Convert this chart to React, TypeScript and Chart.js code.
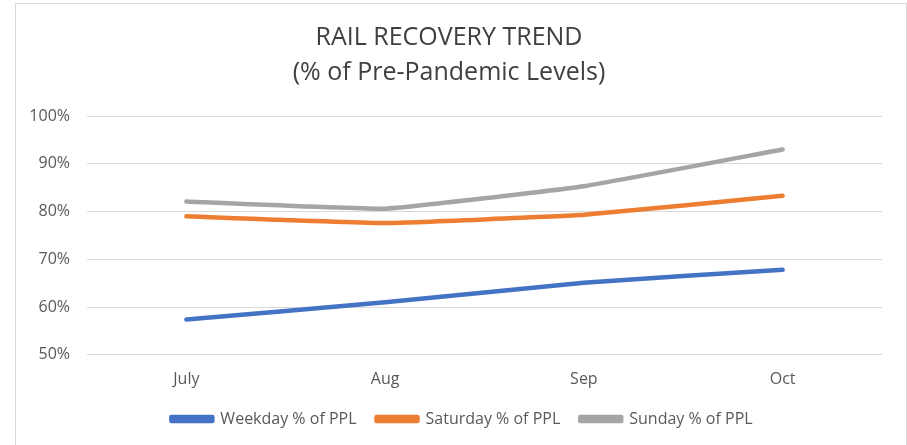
import React, { useEffect, useRef } from "react";
import { Chart, registerables } from "chart.js";

Chart.register(...registerables);

const months = ["July", "Aug", "Sep", "Oct"];
const weekday = [57.4, 61.0, 65.1, 67.8];
const saturday = [79.0, 77.6, 79.3, 83.3];
const sunday = [82.1, 80.6, 85.3, 93.0];
const titleLines = ["RAIL RECOVERY TREND", "(% of Pre-Pandemic Levels)"];
const seriesNames = ["Weekday % of PPL", "Saturday % of PPL", "Sunday % of PPL"];

const FONT = "'Open Sans', sans-serif";

const legendShift = {
  id: "legendShift",
  afterLayout(chart: any) {
    const lg = chart.legend;
    if (lg) {
      lg.left += 13;
      lg.right += 13;
      lg.top -= 13;
      lg.bottom -= 13;
    }
  },
};

export default function App() {
  const ref = useRef<HTMLCanvasElement | null>(null);

  useEffect(() => {
    document.body.style.margin = "0";
    const ctx = ref.current!.getContext("2d")!;
    const colors = ["#4472C4", "#ED7D31", "#A5A5A5"];
    const data = [weekday, saturday, sunday];
    const chart = new Chart(ctx, {
      type: "line",
      data: {
        labels: months,
        datasets: data.map((d, i) => ({
          label: seriesNames[i],
          data: d,
          borderColor: colors[i],
          backgroundColor: colors[i],
          borderWidth: 4.5,
          pointRadius: 0,
          tension: 0.1,
          borderCapStyle: "round" as const,
          borderJoinStyle: "round" as const,
        })),
      },
      plugins: [legendShift],
      options: {
        animation: false,
        responsive: false,
        maintainAspectRatio: false,
        layout: { padding: { left: 0, right: 24, top: 0, bottom: -4 } },
        plugins: {
          tooltip: { enabled: false },
          title: {
            display: true,
            text: titleLines,
            color: "#404040",
            font: { family: FONT, size: 25, lineHeight: 1.42, weight: "normal" },
            padding: { top: 16, bottom: 25 },
          },
          legend: {
            position: "bottom",
            labels: {
              boxWidth: 41,
              boxHeight: 4,
              color: "#595959",
              font: { family: FONT, size: 16 },
              padding: 20,
            },
          },
        },
        scales: {
          x: {
            offset: true,
            grid: { display: false, drawTicks: false },
            border: { display: false },
            ticks: { color: "#595959", font: { family: FONT, size: 16 }, padding: 15 },
          },
          y: {
            min: 50,
            max: 100,
            afterFit: (s: any) => {
              s.width = 71;
            },
            grid: { color: "#d9d9d9", lineWidth: 1, drawTicks: false },
            border: { display: false },
            ticks: {
              stepSize: 10,
              color: "#595959",
              font: { family: FONT, size: 16 },
              padding: 17,
              callback: (v: any) => v + "%",
            },
          },
        },
      },
    });
    return () => chart.destroy();
  }, []);

  return (
    <div
      style={{
        position: "absolute",
        left: 15,
        top: 3,
        width: 890,
        height: 460,
        border: "1px solid #d9d9d9",
        background: "#fff",
      }}
    >
      <canvas ref={ref} width={890} height={442} style={{ display: "block" }} />
    </div>
  );
}
